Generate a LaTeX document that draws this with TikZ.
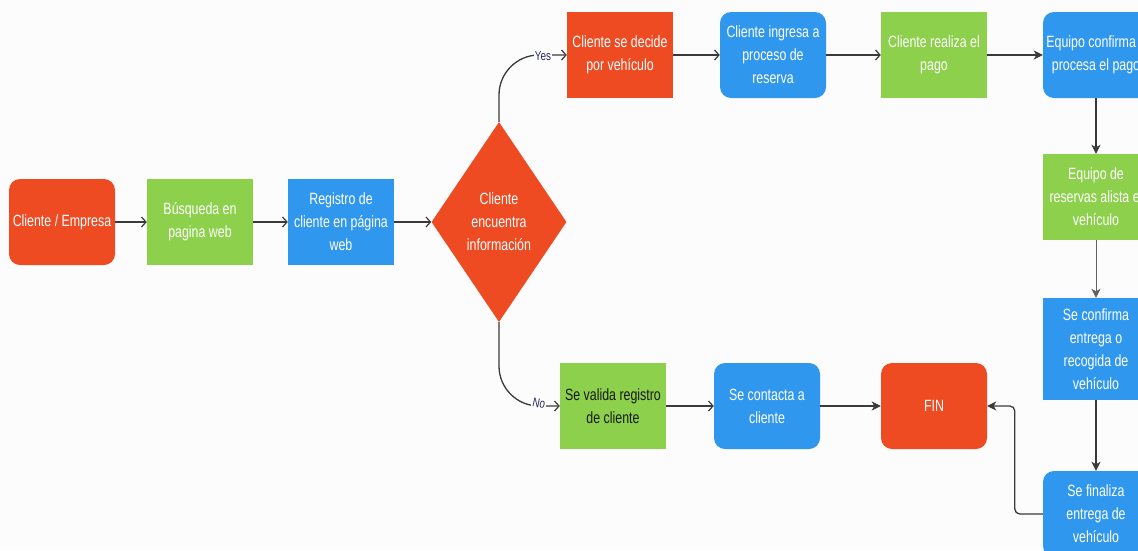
\documentclass[tikz,border=0pt]{standalone}
\usepackage{fontspec}
\setmainfont{Liberation Sans}[FakeStretch=0.76]
\usetikzlibrary{shapes.geometric,arrows.meta}
\definecolor{bgc}{HTML}{FCFCFC}
\definecolor{fred}{HTML}{EE4B23}
\definecolor{fgreen}{HTML}{8DD04C}
\definecolor{fblue}{HTML}{3097EE}
\definecolor{lnc}{HTML}{3A3A3A}
\definecolor{lblc}{HTML}{2A2A5E}
\newcommand\boxfont{\fontsize{16.3}{23}\selectfont}
\newcommand\lblfont{\fontsize{13}{14}\selectfont}
\tikzset{
  box/.style={minimum width=106pt, minimum height=86pt, inner sep=1pt,
    align=center, text=white, font=\boxfont},
  sqbox/.style={box},
  rndbox/.style={box, rounded corners=11pt},
  redc/.style={fill=fred},
  greenc/.style={fill=fgreen},
  bluec/.style={fill=fblue},
  conn/.style={draw=lnc, line width=1.3pt},
  openarr/.style={conn, -{Straight Barb[length=4.5pt,width=10pt,line width=1.2pt]}},
  fullarr/.style={conn, -{Stealth[length=9pt,width=9pt,inset=2.5pt]}},
  lbl/.style={fill=bgc, inner sep=1pt, text=lblc, font=\lblfont}
}
\begin{document}
\begin{tikzpicture}[x=1pt,y=-1pt]
\fill[bgc] (0,0) rectangle (1138,550);
\useasboundingbox (0,0) rectangle (1138,550);
\clip (0,0) rectangle (1138,550);

% main row
\node[rndbox, redc]   (cli) at (62,222)  {Cliente / Empresa};
\node[sqbox, greenc]  (bus) at (200,222) {Búsqueda en\\pagina web};
\node[sqbox, bluec]   (reg) at (341,222) {Registro de\\cliente en página\\web};
\node[diamond, fill=fred, minimum width=135pt, minimum height=200pt,
      inner sep=0pt, align=center, text=white, font=\boxfont]
      (dec) at (499,222) {Cliente\\encuentra\\información};

% upper branch
\node[sqbox, redc]    (veh) at (620,55)  {Cliente se decide\\por vehículo};
\node[rndbox, bluec]  (ing) at (773,55)  {Cliente ingresa a\\proceso de\\reserva};
\node[sqbox, greenc]  (pag) at (934,55)  {Cliente realiza el\\pago};
\node[rndbox, bluec]  (eqc) at (1096,55) {Equipo confirma y\\procesa el pago};
\node[sqbox, greenc]  (ali) at (1096,197) {Equipo de\\reservas alista el\\vehículo};
\node[sqbox, bluec, minimum height=102pt] (ent) at (1096,349)
      {Se confirma\\entrega o\\recogida de\\vehículo};
\node[rndbox, bluec]  (fnl) at (1096,514) {Se finaliza\\entrega de\\vehículo};

% lower branch
\node[sqbox, greenc, text=black!90] (val) at (613,406) {Se valida registro\\de cliente};
\node[rndbox, bluec]  (con) at (767,406) {Se contacta a\\cliente};
\node[rndbox, redc]   (fin) at (934,406) {FIN};

% connectors
\draw[openarr] (cli) -- (bus);
\draw[openarr] (bus) -- (reg);
\draw[openarr] (reg) -- (dec);
\draw[openarr, rounded corners=40pt] (dec.north) |- (veh.west);
\draw[openarr, rounded corners=40pt] (dec.south) |- (val.west);
\node[lbl] (yes) at (543,56) {Yes};
\node[lbl, rotate=-12] (no) at (539,403) {No};
\draw[openarr] (veh) -- (ing);
\draw[openarr] (ing) -- (pag);
\draw[fullarr, line width=1.8pt] (pag) -- (eqc);
\draw[fullarr] (eqc) -- (ali);
\draw[fullarr, line width=1pt, draw=lnc!80] (ali) -- (ent);
\draw[fullarr] (ent) -- (fnl);
\draw[openarr] (val) -- (con);
\draw[fullarr, line width=1.6pt] (con) -- (fin);
\draw[fullarr, rounded corners=5pt] (fnl.west) -- ++(-28,0) |- (fin.east);
\end{tikzpicture}
\end{document}
